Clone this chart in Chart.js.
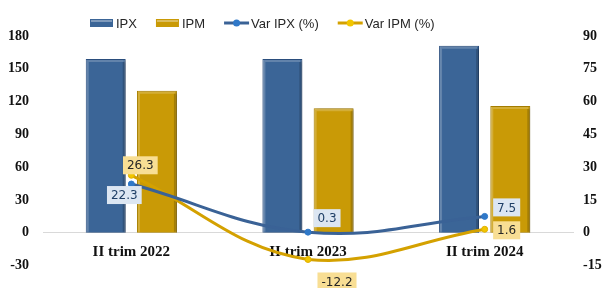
<!DOCTYPE html>
<html>
<head>
<meta charset="utf-8">
<script src="https://cdn.jsdelivr.net/npm/chart.js@4"></script>
<style>
  html, body { margin: 0; padding: 0; background: #fff; }
  #wrap { width: 607px; height: 288px; }
</style>
</head>
<body>
<div id="wrap"><canvas id="chart"></canvas></div>
<script>
const categories = ["II trim 2022", "II trim 2023", "II trim 2024"];
const ipx = [159, 159, 171];
const ipm = [130, 114, 116];
const varIpx = [22.3, 0.3, 7.5];
const varIpm = [26.3, -12.2, 1.6];

// label offsets from each point (px)
const ipxLabelOffsets = [[-7, 11], [19, -14], [22, -9]];
const ipmLabelOffsets = [[9, -10], [29, 22], [22, 1]];

const barShadow = {
  id: "barShadow",
  beforeDatasetDraw(chart, args) {
    if (chart.data.datasets[args.index].type !== "bar") return;
    const ctx = chart.ctx;
    ctx.save();
    ctx.shadowColor = "rgba(0,0,0,0.35)";
    ctx.shadowBlur = 3;
    ctx.shadowOffsetX = 2;
    ctx.shadowOffsetY = 1;
  },
  afterDatasetDraw(chart, args) {
    const ds = chart.data.datasets[args.index];
    if (ds.type !== "bar") return;
    const ctx = chart.ctx;
    ctx.restore();
    // bevel look
    chart.getDatasetMeta(args.index).data.forEach(bar => {
      const l = bar.x - bar.width / 2, r = bar.x + bar.width / 2;
      const t = bar.y, b = bar.base;
      ctx.save();
      ctx.lineWidth = 2;
      ctx.strokeStyle = "rgba(255,255,255,0.2)";
      ctx.beginPath();
      ctx.moveTo(l + 2, b - 1); ctx.lineTo(l + 2, t + 2); ctx.lineTo(r - 2, t + 2);
      ctx.stroke();
      ctx.strokeStyle = "rgba(0,0,0,0.18)";
      ctx.beginPath();
      ctx.moveTo(r - 2, t + 3); ctx.lineTo(r - 2, b - 1);
      ctx.stroke();
      ctx.restore();
    });
  }
};

const valueLabels = {
  id: "valueLabels",
  afterDatasetsDraw(chart) {
    const ctx = chart.ctx;
    chart.data.datasets.forEach((ds, i) => {
      if (!ds.labelStyle) return;
      const meta = chart.getDatasetMeta(i);
      meta.data.forEach((pt, j) => {
        const text = ds.data[j].toFixed(1);
        const off = ds.labelStyle.offsets[j];
        ctx.save();
        ctx.font = "12px 'DejaVu Sans'";
        const w = ctx.measureText(text).width + 8;
        const h = 18;
        const cx = pt.x + off[0], cy = pt.y + off[1];
        ctx.fillStyle = ds.labelStyle.bg;
        ctx.fillRect(cx - w / 2, cy - h / 2, w, h);
        ctx.fillStyle = ds.labelStyle.color;
        ctx.textAlign = "center";
        ctx.textBaseline = "middle";
        ctx.fillText(text, cx, cy + 1);
        ctx.restore();
      });
    });
  }
};

// legend drawn at the top, left of centre as in the original
const topLegend = {
  id: "topLegend",
  afterDraw(chart) {
    const ctx = chart.ctx;
    const y = 23;
    let x = 90;
    ctx.save();
    ctx.font = "13px 'Liberation Sans'";
    ctx.textBaseline = "middle";
    chart.data.datasets.forEach(ds => {
      if (ds.type === "bar") {
        ctx.fillStyle = ds.backgroundColor;
        ctx.fillRect(x, y - 4, 23, 8);
        ctx.fillStyle = "rgba(255,255,255,0.35)";
        ctx.fillRect(x + 1, y - 3, 21, 2);
        x += 26;
      } else {
        ctx.strokeStyle = ds.borderColor;
        ctx.lineWidth = 3;
        ctx.beginPath(); ctx.moveTo(x, y); ctx.lineTo(x + 25, y); ctx.stroke();
        ctx.fillStyle = ds.pointBackgroundColor;
        ctx.beginPath(); ctx.arc(x + 12.5, y, 3.5, 0, Math.PI * 2); ctx.fill();
        x += 27;
      }
      ctx.fillStyle = "#262626";
      ctx.fillText(ds.label, x, y + 1);
      x += ctx.measureText(ds.label).width + 19;
    });
    ctx.restore();
  }
};

const ctx = document.getElementById("chart").getContext("2d");
new Chart(ctx, {
  data: {
    labels: categories,
    datasets: [
      {
        type: "bar", label: "IPX", data: ipx, yAxisID: "y", order: 1,
        backgroundColor: "#3b6597", borderColor: "#2c5080", borderWidth: 1,
        categoryPercentage: 0.58, barPercentage: 0.78
      },
      {
        type: "bar", label: "IPM", data: ipm, yAxisID: "y", order: 1,
        backgroundColor: "#c99a06", borderColor: "#a98000", borderWidth: 1,
        categoryPercentage: 0.58, barPercentage: 0.78
      },
      {
        type: "line", label: "Var IPX (%)", data: varIpx, yAxisID: "y1", order: 0,
        borderColor: "#3a6296", borderWidth: 3, tension: 0.4,
        pointBackgroundColor: "#2f78c8", pointBorderColor: "#2f78c8",
        pointRadius: 3, pointBorderWidth: 1,
        labelStyle: { bg: "#dce6f2", color: "#1f3f66", offsets: ipxLabelOffsets }
      },
      {
        type: "line", label: "Var IPM (%)", data: varIpm, yAxisID: "y1", order: 0,
        borderColor: "#d4a100", borderWidth: 3, tension: 0.4,
        pointBackgroundColor: "#f2c600", pointBorderColor: "#e0b000",
        pointRadius: 3, pointBorderWidth: 1,
        labelStyle: { bg: "#f8de94", color: "#262626", offsets: ipmLabelOffsets }
      }
    ]
  },
  options: {
    responsive: true,
    maintainAspectRatio: false,
    animation: false,
    layout: { padding: { top: 36, bottom: 22, left: 0, right: 0 } },
    plugins: {
      tooltip: { enabled: false },
      legend: { display: false }
    },
    scales: {
      x: {
        position: { y: 0 },
        afterFit(s) { s.height = 0; },
        grid: { display: false, drawTicks: false },
        border: { color: "#d9d9d9" },
        ticks: {
          color: "#111",
          padding: 10,
          font: { family: "'Liberation Serif'", size: 15, weight: "bold" }
        }
      },
      y: {
        position: "left",
        min: -30, max: 180,
        afterFit(s) { s.width = 43; },
        grid: { display: false, drawTicks: false },
        border: { display: false },
        ticks: {
          stepSize: 30, color: "#111", padding: 14,
          font: { family: "'Liberation Serif'", size: 14, weight: "bold" }
        }
      },
      y1: {
        position: "right",
        min: -15, max: 90,
        afterFit(s) { s.width = 34; },
        grid: { display: false, drawTicks: false },
        border: { display: false },
        ticks: {
          stepSize: 15, color: "#111", padding: 10,
          font: { family: "'Liberation Serif'", size: 14, weight: "bold" }
        }
      }
    }
  },
  plugins: [barShadow, valueLabels, topLegend]
});
</script>
</body>
</html>
